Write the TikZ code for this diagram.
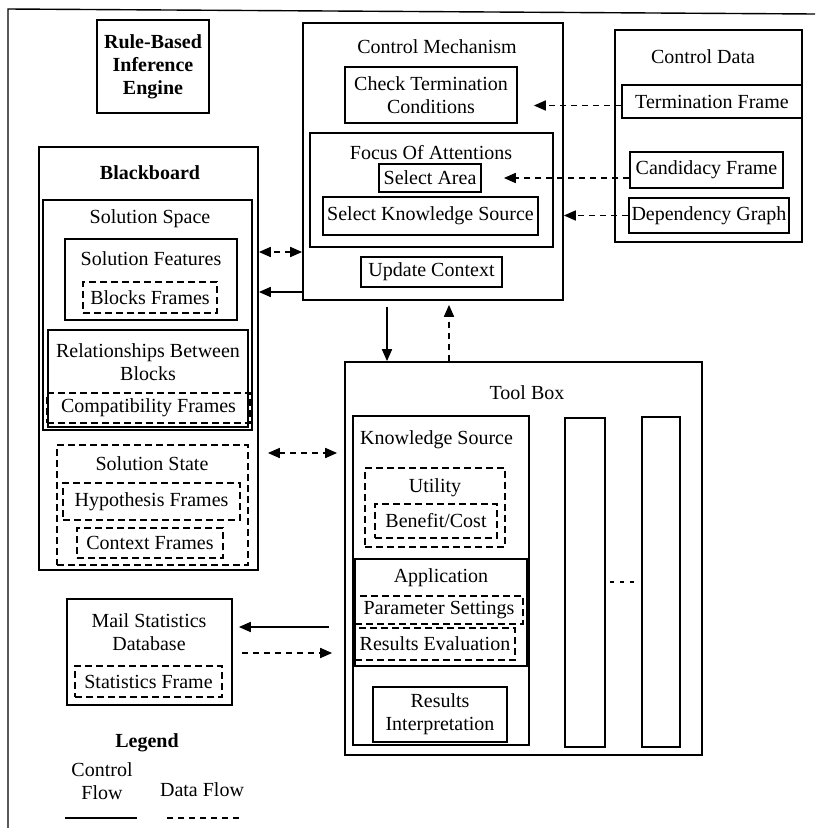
\documentclass[tikz,border=0pt]{standalone}
\usepackage{fontspec}
\setmainfont{Liberation Serif}
\usetikzlibrary{arrows.meta,fit}
\begin{document}
\begin{tikzpicture}[x=1pt,y=-1pt,
  box/.style={draw,line width=1.7pt,inner sep=0pt},
  dbox/.style={box,dash pattern=on 7pt off 4pt},
  txt/.style={inner sep=0pt,font=\fontsize{20}{23}\selectfont,align=center},
  btxt/.style={txt,font=\fontsize{20}{23}\selectfont\bfseries},
  cflow/.style={line width=1.7pt,-{Triangle[length=12pt,width=10pt]}},
  dflow/.style={cflow,dash pattern=on 6pt off 5pt},
  dflow2/.style={dflow,{Triangle[length=12pt,width=10pt]}-{Triangle[length=12pt,width=10pt]}},
]
\useasboundingbox (0,0) rectangle (815,828);

% page frame
\coordinate (fTL) at (8,9);
\coordinate (fTR) at (815,14);
\coordinate (fBL) at (8,828);
\draw[line width=1.4pt] (fBL) -- (fTL) -- (fTR);

% rule-based inference engine
\node[box,fit={(97,20) (209,113)}] (rbie) {};
\node[btxt] at (rbie.center) {Rule-Based\\Inference\\Engine};

% blackboard
\node[box,fit={(39,147) (258,570)}] (bb) {};
\node[btxt] at (150,173) {Blackboard};
\node[box,fit={(43,200) (252,430)}] (ss) {};
\node[txt] at (150,219) {Solution Space};
\node[box,fit={(65,239) (237,320)}] (sf) {};
\node[txt] at (151,259) {Solution Features};
\node[dbox,fit={(83,282) (217,313)}] (blk) {};
\node[txt] at (blk.center) {Blocks Frames};
\node[box,fit={(48,330) (248,427)}] (rel) {};
\node[txt] at (148,362) {Relationships Between\\Blocks};
\node[dbox,fit={(47,393) (250,423)}] (comp) {};
\node[txt] at (comp.center) {Compatibility Frames};
\node[dbox,fit={(57,445) (248,565)}] (sst) {};
\node[txt] at (152,464) {Solution State};
\node[dbox,fit={(63,483) (240,520)}] (hyp) {};
\node[txt] at (hyp.center) {Hypothesis Frames};
\node[dbox,fit={(77,528) (223,558)}] (ctx) {};
\node[txt] at (ctx.center) {Context Frames};

% control mechanism
\node[box,fit={(303,23) (563,300)}] (cm) {};
\node[txt] at (437,47) {Control Mechanism};
\node[box,fit={(345,67) (517,123)}] (ctc) {};
\node[txt] at (ctc.center) {Check Termination\\Conditions};
\node[box,fit={(310,133) (553,247)}] (foa) {};
\node[txt] at (431,153) {Focus Of Attentions};
\node[box,fit={(379,164) (481,192)}] (sa) {};
\node[txt] at (sa.center) {Select Area};
\node[box,fit={(323,197) (538,235)}] (sks) {};
\node[txt] at (sks.center) {Select Knowledge Source};
\node[box,fit={(361,257) (502,287)}] (uc) {};
\node[txt] at (uc.center) {Update Context};

% control data
\node[box,fit={(615,30) (802,242)}] (cd) {};
\node[txt] at (703,57) {Control Data};
\node[box,fit={(622,85) (802,118)}] (tf) {};
\node[txt] at (tf.center) {Termination Frame};
\node[box,fit={(630,152) (783,188)}] (cf) {};
\node[txt] at (cf.center) {Candidacy Frame};
\node[box,fit={(629,198) (789,233)}] (dg) {};
\node[txt] at (dg.center) {Dependency Graph};

% tool box
\node[box,fit={(345,362) (702,755)}] (tb) {};
\node[txt] at (527,393) {Tool Box};
\node[box,fit={(353,416) (529,745)}] (ks) {};
\node[txt,anchor=west] at (360,440) {Knowledge Source};
\node[dbox,fit={(365,468) (505,547)}] (ut) {};
\node[txt] at (435,488) {Utility};
\node[dbox,fit={(375,504) (497,538)}] (bc) {};
\node[txt] at (bc.center) {Benefit/Cost};
\node[box,fit={(355,559) (527,666)}] (app) {};
\node[txt] at (441,578) {Application};
\node[dbox,fit={(355,596) (523,624)}] (ps) {};
\node[txt] at (ps.center) {Parameter Settings};
\node[dbox,fit={(355,628) (515,660)}] (rev) {};
\node[txt] at (rev.center) {Results Evaluation};
\node[box,fit={(373,687) (507,742)}] (ri) {};
\node[txt] at (ri.center) {Results\\Interpretation};
\node[box,fit={(565,418) (605,747)}] (colA) {};
\node[box,fit={(642,417) (680,747)}] (colB) {};
\draw[line width=1.4pt,dash pattern=on 4pt off 6pt] ([xshift=4pt]colA.east |- 0,582) -- ([xshift=-4pt]colB.west |- 0,582);

% mail statistics database
\node[box,fit={(67,599) (232,705)}] (msd) {};
\node[txt] at (149,632) {Mail Statistics\\Database};
\node[dbox,fit={(75,666) (222,697)}] (sfr) {};
\node[txt] at (sfr.center) {Statistics Frame};

% legend
\node[btxt] (leg) at (147,743) {Legend};
\node[txt] (lcf) at (102,781) {Control\\Flow};
\node[txt] (ldf) at (202,790) {Data Flow};
\coordinate (lsA) at (65,818);
\coordinate (lsB) at (137,818);
\coordinate (ldA) at (167,818);
\coordinate (ldB) at (240,818);
\draw[line width=1.7pt] (lsA) -- (lsB);
\draw[line width=1.7pt,dash pattern=on 6pt off 5pt] (ldA) -- (ldB);

% connector levels
\coordinate (yBC) at (0,252);
\coordinate (yCB) at (0,292);
\coordinate (yBT) at (0,453);
\coordinate (yTM) at (0,627);
\coordinate (yMT) at (0,653);
\coordinate (xCT) at (387,0);
\coordinate (xTC) at (449,0);

% data and control flows
\draw[dflow] ([yshift=-4pt]tf.west) -- ([yshift=-4pt]tf.west -| ctc.east) [shorten >=16pt];
\draw[dflow,shorten >=22pt] (cf.west |- sa.east) -- (sa.east);
\draw[dflow] (dg.west) -- (dg.west -| cm.east);
\draw[dflow2] (cm.west |- yBC) -- (bb.east |- yBC);
\draw[cflow] (cm.west |- yCB) -- (bb.east |- yCB);
\draw[cflow,shorten <=6pt] (cm.south -| xCT) -- (tb.north -| xCT);
\draw[dflow,shorten >=4pt] (tb.north -| xTC) -- (cm.south -| xTC);
\draw[dflow2,shorten <=9pt,shorten >=7pt] (bb.east |- yBT) -- (tb.west |- yBT);
\draw[cflow,shorten <=15pt,shorten >=6pt] (tb.west |- yTM) -- (msd.east |- yTM);
\draw[dflow,shorten <=9pt,shorten >=12pt] (msd.east |- yMT) -- (tb.west |- yMT);
\end{tikzpicture}
\end{document}
